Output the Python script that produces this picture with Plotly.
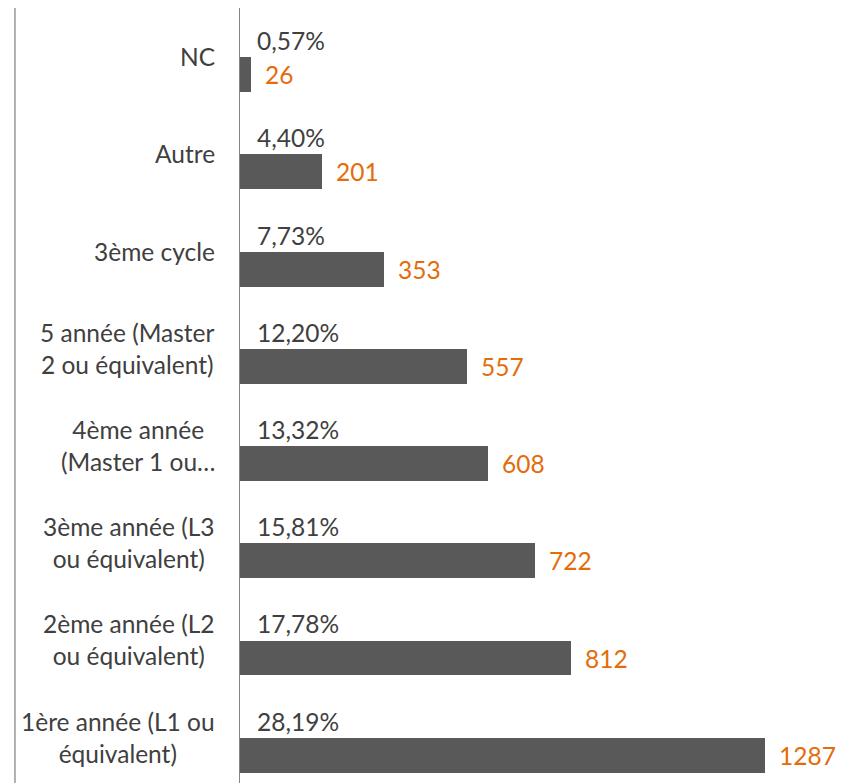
import plotly.graph_objects as go

categories = ["1ère année (L1 ou<br>équivalent)", "2ème année (L2<br>ou équivalent)",
              "3ème année (L3<br>ou équivalent)", "4ème année<br>(Master 1 ou…",
              "5 année (Master<br>2 ou équivalent)", "3ème cycle", "Autre", "NC"]
counts = [1287, 812, 722, 608, 557, 353, 201, 26]
percent_labels = ["28,19%", "17,78%", "15,81%", "13,32%", "12,20%", "7,73%", "4,40%", "0,57%"]

FONT = "Lato, 'Open Sans', sans-serif"
FS = 24.5
TXT = "#404040"
ORANGE = "#E46C0A"

pos = list(range(len(categories)))

fig = go.Figure()
fig.add_trace(go.Bar(
    x=counts, y=pos, orientation="h", width=0.36,
    marker=dict(color="#595959", line=dict(width=0)),
    hoverinfo="skip", showlegend=False,
))

annotations = []
for p, c, pl, cat in zip(pos, counts, percent_labels, categories):
    annotations.append(dict(x=0, y=p + 0.35, xref="x", yref="y", text=pl, showarrow=False,
                            xanchor="left", yanchor="middle", xshift=15,
                            font=dict(family=FONT, size=FS, color=TXT)))
    annotations.append(dict(x=c, y=p, xref="x", yref="y", text=str(c), showarrow=False,
                            xanchor="left", yanchor="middle", xshift=12,
                            font=dict(family=FONT, size=FS, color=ORANGE)))
    annotations.append(dict(x=0, y=p + 0.186, xref="x", yref="y", text=cat, showarrow=False,
                            xanchor="right", yanchor="middle", xshift=-23, align="center",
                            font=dict(family=FONT, size=FS, color=TXT)))

fig.update_layout(
    width=850, height=783,
    margin=dict(l=232, r=8, t=0, b=8),
    paper_bgcolor="white", plot_bgcolor="white",
    bargap=0,
    xaxis=dict(range=[0, 1495.5], visible=False, fixedrange=True),
    yaxis=dict(range=[-0.286, 7.687], showticklabels=False, ticks="", showgrid=False,
               zeroline=False, showline=True, linecolor="#868686", linewidth=1.3,
               fixedrange=True),
    annotations=annotations,
    shapes=[dict(type="line", xref="paper", yref="paper", x0=-0.3689, x1=-0.3689,
                 y0=-0.02, y1=1.03, line=dict(color="#868686", width=1.3))],
)

fig.write_html("out.html")
